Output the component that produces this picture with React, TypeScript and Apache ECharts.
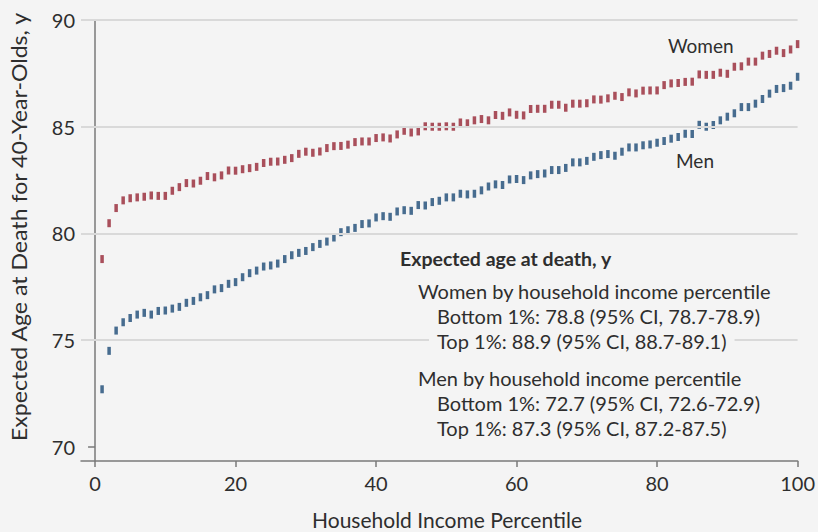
import React, { useEffect, useRef } from "react";
import * as echarts from "echarts";

const percentiles = [
  1, 2, 3, 4, 5, 6, 7, 8, 9, 10, 11, 12, 13, 14, 15, 16, 17, 18, 19, 20,
  21, 22, 23, 24, 25, 26, 27, 28, 29, 30, 31, 32, 33, 34, 35, 36, 37, 38, 39, 40,
  41, 42, 43, 44, 45, 46, 47, 48, 49, 50, 51, 52, 53, 54, 55, 56, 57, 58, 59, 60,
  61, 62, 63, 64, 65, 66, 67, 68, 69, 70, 71, 72, 73, 74, 75, 76, 77, 78, 79, 80,
  81, 82, 83, 84, 85, 86, 87, 88, 89, 90, 91, 92, 93, 94, 95, 96, 97, 98, 99, 100,
];

const women = [
  78.8, 80.48, 81.19, 81.55, 81.65, 81.69, 81.72, 81.78, 81.76, 81.76,
  82.0, 82.17, 82.36, 82.34, 82.47, 82.69, 82.63, 82.72, 82.95, 82.94,
  83.01, 83.06, 83.12, 83.3, 83.36, 83.37, 83.45, 83.53, 83.73, 83.83,
  83.78, 83.84, 84.0, 84.09, 84.1, 84.16, 84.28, 84.31, 84.31, 84.47,
  84.5, 84.45, 84.64, 84.81, 84.73, 84.78, 85.02, 85.0, 85.0, 85.02,
  85.0, 85.2, 85.16, 85.3, 85.36, 85.3, 85.55, 85.51, 85.67, 85.56,
  85.53, 85.83, 85.84, 85.84, 86.03, 86.03, 85.89, 86.08, 86.08, 86.1,
  86.28, 86.27, 86.33, 86.45, 86.39, 86.61, 86.56, 86.69, 86.7, 86.7,
  86.95, 87.03, 87.05, 87.1, 87.11, 87.45, 87.43, 87.43, 87.53, 87.48,
  87.81, 87.83, 88.05, 88.05, 88.33, 88.41, 88.56, 88.45, 88.62, 88.87,
];

const men = [
  72.7, 74.5, 75.45, 75.84, 76.04, 76.2, 76.28, 76.2, 76.37, 76.39,
  76.48, 76.56, 76.75, 76.84, 77.01, 77.11, 77.38, 77.44, 77.64, 77.72,
  77.95, 78.14, 78.26, 78.45, 78.5, 78.59, 78.8, 78.98, 79.09, 79.18,
  79.36, 79.51, 79.62, 79.81, 80.06, 80.15, 80.26, 80.44, 80.47, 80.75,
  80.81, 80.78, 81.03, 81.09, 81.06, 81.33, 81.31, 81.47, 81.53, 81.69,
  81.69, 81.86, 81.83, 81.86, 82.02, 82.2, 82.3, 82.27, 82.53, 82.55,
  82.5, 82.72, 82.78, 82.81, 82.97, 82.97, 83.07, 83.33, 83.33, 83.4,
  83.59, 83.67, 83.72, 83.64, 83.83, 84.03, 84.03, 84.13, 84.17, 84.25,
  84.33, 84.44, 84.52, 84.67, 84.66, 85.09, 85.0, 85.08, 85.3, 85.47,
  85.63, 85.92, 85.92, 86.08, 86.3, 86.55, 86.77, 86.81, 86.92, 87.34,
];

const xTicks = [0, 20, 40, 60, 80, 100];
const yTicks = [70, 75, 80, 85, 90];
const gridValues = [75, 80, 85, 90];

const xTitle = "Household Income Percentile";
const yTitle = "Expected Age at Death for 40-Year-Olds, y";
const seriesNames = ["Women", "Men"];
const noteTitle = "Expected age at death, y";
const noteLines = [
  "Women by household income percentile",
  "Bottom 1%: 78.8 (95% CI, 78.7-78.9)",
  "Top 1%: 88.9 (95% CI, 88.7-89.1)",
  "Men by household income percentile",
  "Bottom 1%: 72.7 (95% CI, 72.6-72.9)",
  "Top 1%: 87.3 (95% CI, 87.2-87.5)",
];

const BG = "#f4f4f4";
const RED = "#962535";
const BLUE = "#1b4a76";
const TEXT = "#2e2e2e";
const AXIS = "#7a7a7a";
const FONT = "Lato, 'Noto Sans', sans-serif";

export default function App() {
  const ref = useRef<HTMLDivElement>(null);
  useEffect(() => {
    if (!ref.current) return;
    const chart = echarts.init(ref.current, undefined, { renderer: "svg" });
    const noteX = [410, 429, 429, 410, 429, 429];
    const noteY = [291, 316, 341, 378, 403, 428];
    const graphics: any[] = [
      {
        type: "text",
        x: 19,
        y: 227,
        rotation: Math.PI / 2,
        scaleX: 1.1,
        style: {
          text: yTitle,
          fill: TEXT,
          font: `21px ${FONT}`,
          textAlign: "center",
          textVerticalAlign: "middle",
        },
      },
      {
        type: "text",
        x: 447,
        y: 519,
        style: {
          text: xTitle,
          fill: TEXT,
          font: `21px ${FONT}`,
          textAlign: "center",
          textVerticalAlign: "middle",
        },
      },
      {
        type: "text",
        x: 668,
        y: 45,
        style: { text: seriesNames[0], fill: TEXT, font: `19px ${FONT}`, textVerticalAlign: "middle" },
      },
      {
        type: "text",
        x: 676,
        y: 160,
        style: { text: seriesNames[1], fill: TEXT, font: `19px ${FONT}`, textVerticalAlign: "middle" },
      },
      {
        type: "text",
        x: 400,
        y: 258,
        style: { text: noteTitle, fill: TEXT, font: `bold 19.5px ${FONT}`, textVerticalAlign: "middle" },
      },
    ];
    noteLines.forEach((t, i) => {
      graphics.push({
        type: "text",
        x: noteX[i],
        y: noteY[i],
        z: 10,
        style: {
          text: t,
          fill: TEXT,
          font: `20px ${FONT}`,
          textVerticalAlign: "middle",
          backgroundColor: BG,
          padding: [0, 8],
        },
      });
    });

    chart.setOption({
      animation: false,
      backgroundColor: BG,
      grid: { left: 81, right: 18, top: 20, bottom: 71, containLabel: false },
      xAxis: {
        type: "value",
        min: -2,
        max: 100,
        splitLine: { show: false },
        axisLine: { show: true, lineStyle: { color: AXIS, width: 1.5 } },
        axisTick: { show: true, customValues: xTicks, length: 6, lineStyle: { color: AXIS, width: 1.5 } },
        axisLabel: {
          customValues: xTicks,
          color: TEXT,
          fontSize: 20,
          fontFamily: FONT,
          margin: 12,
        },
      },
      yAxis: {
        type: "value",
        min: 69.34,
        max: 90,
        splitLine: { show: false },
        axisLine: { show: true, lineStyle: { color: AXIS, width: 1.5 } },
        axisTick: { show: true, customValues: yTicks, length: 7, lineStyle: { color: AXIS, width: 1.5 } },
        axisLabel: {
          customValues: yTicks,
          color: TEXT,
          fontSize: 20,
          fontFamily: FONT,
          margin: 6,
        },
      },
      series: [
        {
          name: "grid",
          type: "scatter",
          data: [],
          z: 1,
          silent: true,
          markLine: {
            silent: true,
            symbol: "none",
            label: { show: false },
            lineStyle: { color: "#d9d9d9", width: 2, type: "solid" },
            data: gridValues.map((v) => ({ yAxis: v })),
          },
        },
        {
          name: seriesNames[0],
          type: "scatter",
          z: 3,
          symbol: "rect",
          symbolSize: [3.5, 8],
          itemStyle: { color: RED },
          data: percentiles.map((p, i) => [p, women[i]]),
        },
        {
          name: seriesNames[1],
          type: "scatter",
          z: 3,
          symbol: "rect",
          symbolSize: [3.5, 8],
          itemStyle: { color: BLUE },
          data: percentiles.map((p, i) => [p, men[i]]),
        },
      ],
      graphic: graphics,
    });
    return () => chart.dispose();
  }, []);
  return (
    <div
      ref={ref}
      style={{ position: "fixed", left: 0, top: 0, width: 818, height: 532, background: BG }}
    />
  );
}
